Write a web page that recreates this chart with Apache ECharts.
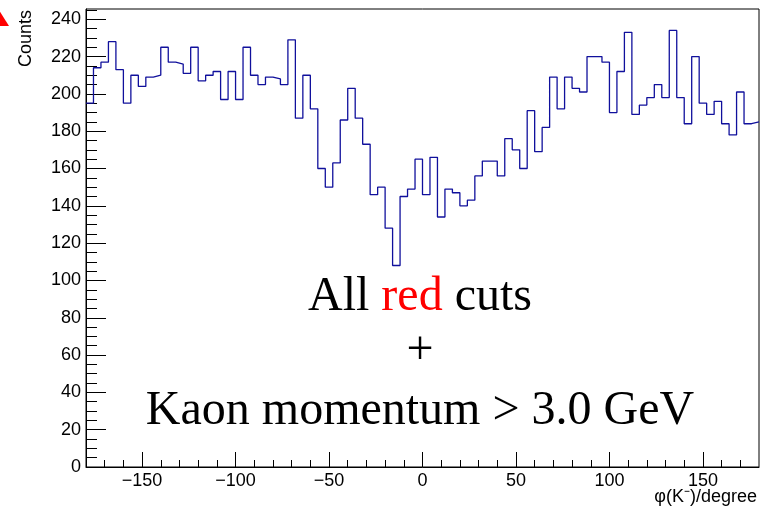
<!DOCTYPE html>
<html>
<head>
<meta charset="utf-8">
<script src="https://cdn.jsdelivr.net/npm/echarts@6/dist/echarts.min.js"></script>
<style>
html,body{margin:0;padding:0;background:#fff;}
#chart{width:768px;height:510px;}
</style>
</head>
<body>
<div id="chart"></div>
<script>
// Histogram definition: 90 bins of 4 degrees from -180 to 180
const BIN_MIN = -180;
const BIN_WIDTH = 4;
const counts = [
  195, 214, 217, 228, 213, 195, 210, 204, 209, 210,
  225, 217, 216, 211, 225, 207, 210, 212, 197, 212,
  197, 225, 210, 205, 209, 208, 205, 229, 187, 210,
  192, 160, 150, 163, 186, 203, 187, 173, 146, 150,
  128, 108, 145, 149, 165, 146, 166, 134, 149, 147,
  140, 143, 156, 164, 164, 156, 176, 170, 160, 191,
  169, 182, 209, 192, 209, 203, 201, 220, 220, 217,
  190, 212, 233, 189, 194, 198, 205, 198, 234, 198,
  184, 220, 195, 189, 196, 184, 178, 201, 184, 185
];
const xMajorTicks = [-150, -100, -50, 0, 50, 100, 150];
const xMinorTicks = [-170,-160,-140,-130,-120,-110,-90,-80,-70,-60,-40,-30,-20,-10,10,20,30,40,60,70,80,90,110,120,130,140,160,170];
const yMajorTicks = [0, 20, 40, 60, 80, 100, 120, 140, 160, 180, 200, 220, 240];
const yMinorTicks = [5,10,15,25,30,35,45,50,55,65,70,75,85,90,95,105,110,115,125,130,135,145,150,155,165,170,175,185,190,195,205,210,215,225,230,235,245];
const X_MIN = -180, X_MAX = 180, Y_MIN = 0, Y_MAX = 245.5;

// step data: left edge of each bin with its count, plus closing point at the right edge
const histData = counts.map((c, i) => [BIN_MIN + i * BIN_WIDTH, c]);
histData.push([BIN_MIN + counts.length * BIN_WIDTH, counts[counts.length - 1]]);

const SANS = 'Liberation Sans, Arial, Helvetica, sans-serif';
const SERIF = 'Liberation Serif, Times New Roman, serif';
const fmt = v => String(v).replace('-', '\u2212');

const chart = echarts.init(document.getElementById('chart'), null, {renderer: 'canvas'});
chart.setOption({
  animation: false,
  backgroundColor: '#fff',
  grid: {left: 86, right: 9, top: 9, bottom: 43, show: true, borderColor: '#000', borderWidth: 1, backgroundColor: 'transparent'},
  xAxis: [
    {type: 'value', min: X_MIN, max: X_MAX, position: 'bottom',
     axisLine: {show: true, onZero: false, lineStyle: {color: '#000', width: 1}},
     axisTick: {show: true, inside: true, length: 7, customValues: xMinorTicks, lineStyle: {color: '#000'}},
     axisLabel: {show: false}, splitLine: {show: false}},
    {type: 'value', min: X_MIN, max: X_MAX, position: 'bottom',
     axisLine: {show: false, onZero: false},
     axisTick: {show: true, inside: true, length: 15, customValues: xMajorTicks, lineStyle: {color: '#000'}},
     axisLabel: {show: true, customValues: xMajorTicks, formatter: fmt, fontSize: 18, fontFamily: SANS, color: '#000', margin: 5},
     splitLine: {show: false}}
  ],
  yAxis: [
    {type: 'value', min: Y_MIN, max: Y_MAX, position: 'left',
     axisLine: {show: true, onZero: false, lineStyle: {color: '#000', width: 1}},
     axisTick: {show: true, inside: true, length: 11, customValues: yMinorTicks, lineStyle: {color: '#000'}},
     axisLabel: {show: false}, splitLine: {show: false}},
    {type: 'value', min: Y_MIN, max: Y_MAX, position: 'left',
     axisLine: {show: false, onZero: false},
     axisTick: {show: true, inside: true, length: 20, customValues: yMajorTicks, lineStyle: {color: '#000'}},
     axisLabel: {show: true, customValues: yMajorTicks, formatter: fmt, fontSize: 18, fontFamily: SANS, color: '#000', margin: 5},
     splitLine: {show: false}}
  ],
  series: [{
    type: 'line', step: 'end', data: histData, xAxisIndex: 0, yAxisIndex: 0,
    showSymbol: false, symbol: 'none',
    lineStyle: {color: '#10109c', width: 1.3},
    silent: true
  }],
  graphic: [
    {type: 'polygon', shape: {points: [[0, 11.7], [9, 26], [0, 26]]}, style: {fill: '#ff0000'}},
    {type: 'text', rotation: Math.PI / 2, x: 26, y: 10,
     style: {text: 'Counts', font: '18px ' + SANS, fill: '#000', align: 'right', verticalAlign: 'middle'}},
    {type: 'text', x: 757, y: 497,
     style: {text: '\u03C6(K\u207B)/degree', font: '18px ' + SANS, fill: '#000', align: 'right', verticalAlign: 'middle'}},
    {type: 'text', x: 420, y: 297,
     style: {text: '{k|All }{r|red}{k| cuts}', align: 'center', verticalAlign: 'middle',
             font: '48px ' + SERIF, fill: '#000',
             rich: {k: {fill: '#000', fontSize: 48, fontFamily: SERIF}, r: {fill: '#ff0000', fontSize: 48, fontFamily: SERIF}}}},
    {type: 'text', x: 420, y: 351,
     style: {text: '+', font: '48px ' + SERIF, fill: '#000', align: 'center', verticalAlign: 'middle'}},
    {type: 'text', x: 420, y: 411,
     style: {text: 'Kaon momentum > 3.0 GeV', font: '48px ' + SERIF, fill: '#000', align: 'center', verticalAlign: 'middle'}}
  ]
});
</script>
</body>
</html>
